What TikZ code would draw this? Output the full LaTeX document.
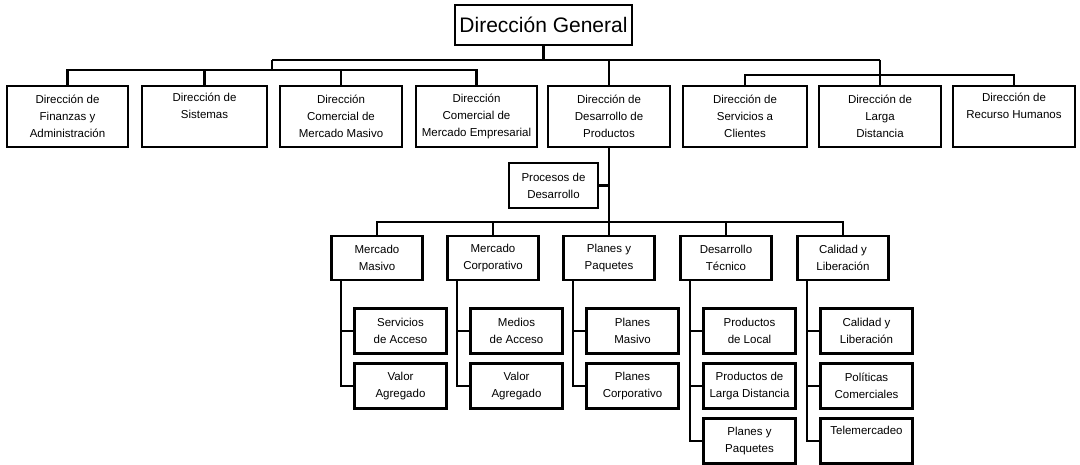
\documentclass[tikz,border=0pt]{standalone}
\usepackage{fontspec}
\setmainfont{Liberation Sans}
\begin{document}
\begin{tikzpicture}[x=1pt,y=-1pt,
  unit/.style={draw=black, line width=2.5pt, fill=white, inner sep=0pt, align=center,
    font=\fontsize{11.5}{17}\selectfont},
  top/.style={unit, minimum width=121pt, minimum height=61pt},
  mid/.style={unit, minimum width=91pt, minimum height=44pt},
  leaf/.style={unit, minimum width=92pt, minimum height=45pt},
  link/.style={draw=black, line width=2.2pt}]
\useasboundingbox (0,0) rectangle (1080,465);

% head of the organisation
\node[unit, minimum width=177pt, minimum height=40pt, font=\fontsize{21}{24}\selectfont]
  (gen) at (543.5,25) {Dirección General};

% first level: directions
\node[top] (fin) at (67.5,116.5) {Dirección de\\Finanzas y\\Administración};
\node[top, minimum width=125pt] (sis) at (204.5,116.5) {Dirección de\\Sistemas\\\strut};
\node[top, minimum width=122pt] (cmm) at (341,116.5) {Dirección\\Comercial de\\Mercado Masivo};
\node[top] (cme) at (476.5,116.5) {Dirección\\Comercial de\\Mercado Empresarial};
\node[top, minimum width=122pt] (ddp) at (609,116.5) {Dirección de\\Desarrollo de\\Productos};
\node[top, minimum width=124pt] (ser) at (745,116.5) {Dirección de\\Servicios a\\Clientes};
\node[top, minimum width=122pt] (lar) at (880,116.5) {Dirección de\\Larga\\Distancia};
\node[top, minimum width=122pt] (rec) at (1014,116.5) {Dirección de\\Recurso Humanos\\\strut};

% junctions of the first level
\coordinate (b1) at (272,60);
\coordinate (b2) at (880,60);
\coordinate (jl) at (272,70);
\coordinate (jr) at (880,75);

\draw[link] (gen.south) |- (b1);
\draw[link] (gen.south) |- (b2);
\draw[link] (b1) -- (jl);
\draw[link] (b2) -- (jr);
\draw[link] (fin.north) |- (jl);
\draw[link] (cme.north) |- (jl);
\draw[link] (sis.north) -- (sis.north |- jl);
\draw[link] (cmm.north) -- (cmm.north |- jl);
\draw[link] (ddp.north) -- (ddp.north |- b1);
\draw[link] (ser.north) |- (jr);
\draw[link] (rec.north) |- (jr);
\draw[link] (lar.north) -- (jr);

% staff unit of product development
\node[unit, minimum width=89pt, minimum height=45pt] (pro) at (553.5,185.5) {Procesos de\\Desarrollo};

% second level
\node[mid] (mm) at (377,258) {Mercado\\Masivo};
\node[mid] (mc) at (493,258) {Mercado\\Corporativo};
\node[mid] (pp) at (609,258) {Planes y\\Paquetes};
\node[mid] (dt) at (726,258) {Desarrollo\\Técnico};
\node[mid] (cl) at (843,258) {Calidad y\\Liberación};

\coordinate (j2) at (609,222);
\draw[link] (ddp.south) -- (pp.north);
\draw[link] (pro.east) -- (pro.east -| ddp.south);
\draw[link] (mm.north) |- (j2);
\draw[link] (cl.north) |- (j2);
\draw[link] (mc.north) -- (mc.north |- j2);
\draw[link] (dt.north) -- (dt.north |- j2);

% third level
\node[leaf] (mm1) at (400.5,331) {Servicios\\de Acceso};
\node[leaf] (mm2) at (400.5,386) {Valor\\Agregado};
\node[leaf] (mc1) at (516.5,331) {Medios\\de Acceso};
\node[leaf] (mc2) at (516.5,386) {Valor\\Agregado};
\node[leaf] (pp1) at (632.5,331) {Planes\\Masivo};
\node[leaf] (pp2) at (632.5,386) {Planes\\Corporativo};
\node[leaf] (dt1) at (749.5,331) {Productos\\de Local};
\node[leaf] (dt2) at (749.5,386) {Productos de\\Larga Distancia};
\node[leaf] (dt3) at (749.5,441) {Planes y\\Paquetes};
\node[leaf] (cl1) at (866.5,331) {Calidad y\\Liberación};
\node[leaf] (cl2) at (866.5,386) {Políticas\\Comerciales};
\node[leaf] (cl3) at (866.5,441) {Telemercadeo\\\strut};

\foreach \p/\a/\b in {mm/mm1/mm2, mc/mc1/mc2, pp/pp1/pp2}{
  \draw[link] ([xshift=11pt]\p.south west) |- (\a.west);
  \draw[link] ([xshift=11pt]\p.south west) |- (\b.west);
}
\foreach \p in {dt, cl}{
  \draw[link] ([xshift=11pt]\p.south west) |- (\p1.west);
  \draw[link] ([xshift=11pt]\p.south west) |- (\p2.west);
  \draw[link] ([xshift=11pt]\p.south west) |- (\p3.west);
}
\end{tikzpicture}
\end{document}
